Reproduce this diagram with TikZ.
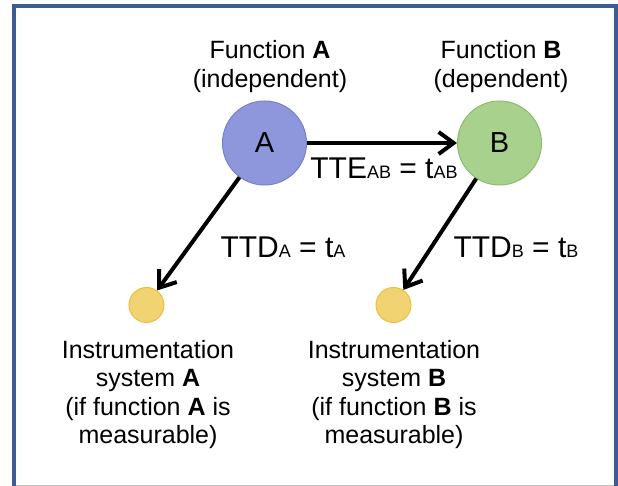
\documentclass[tikz,border=0pt]{standalone}
\usepackage{fontspec}
\setmainfont{Liberation Sans}
\usetikzlibrary{arrows.meta}
\definecolor{frameblue}{HTML}{3E5A97}
\definecolor{funcAfill}{HTML}{8E97DB}
\definecolor{funcAline}{HTML}{7581C9}
\definecolor{funcBfill}{HTML}{A9D18E}
\definecolor{funcBline}{HTML}{8CBB6E}
\definecolor{instrfill}{HTML}{F2D372}
\definecolor{instrline}{HTML}{E6C142}
\newcommand{\lbl}[1]{{\fontsize{18}{18}\selectfont #1}}

\begin{document}
\begin{tikzpicture}[
  x=1pt, y=1pt,
  func/.style={circle, draw, line width=1pt, minimum size=84pt, inner sep=0pt, font=\fontsize{29}{29}\selectfont},
  instr/.style={circle, draw=instrline, fill=instrfill, line width=1pt, minimum size=35pt, inner sep=0pt},
  caption/.style={align=center, font=\fontsize{25}{28.5}\selectfont},
  timing/.style={font=\fontsize{30}{30}\selectfont},
  flow/.style={line width=4pt, -{Straight Barb[length=15pt,width=22pt]}},
  font=\fontsize{25}{28.5}\selectfont
]
\useasboundingbox (0,0) rectangle (618,486);

% frame
\draw[frameblue, line width=4pt] (14,0) -- (14,479.5) -- (616,479.5) -- (616,0);
\draw[gray!50, line width=1pt] (16,0.5) -- (614,0.5);

% functions
\node[func, fill=funcAfill, draw=funcAline] (fa) at (264.5,343) {A};
\node[func, fill=funcBfill, draw=funcBline] (fb) at (499.5,343) {B};
\node[caption] (fa-txt) at (270,419.5) {Function \textbf{A}\\(independent)};
\node[caption] (fb-txt) at (501,419.5) {Function \textbf{B}\\(dependent)};

% instrumentation systems
\node[instr] (ia) at (146.5,181) {};
\node[instr] (ib) at (393.5,181) {};
\node[caption] (ia-txt) at (148,91.5) {Instrumentation\\system \textbf{A}\\(if function \textbf{A} is\\measurable)};
\node[caption] (ib-txt) at (394,91.5) {Instrumentation\\system \textbf{B}\\(if function \textbf{B} is\\measurable)};

% times
\draw[flow] (fa) -- (fb);
\draw[flow] (fa) -- (ia);
\draw[flow] (fb) -- (ib);
\node[timing] (tte) at (384,318) {TTE\lbl{AB} = t\lbl{AB}};
\node[timing] (ttda) at (283,239) {TTD\lbl{A} = t\lbl{A}};
\node[timing] (ttdb) at (516,239) {TTD\lbl{B} = t\lbl{B}};
\end{tikzpicture}
\end{document}
